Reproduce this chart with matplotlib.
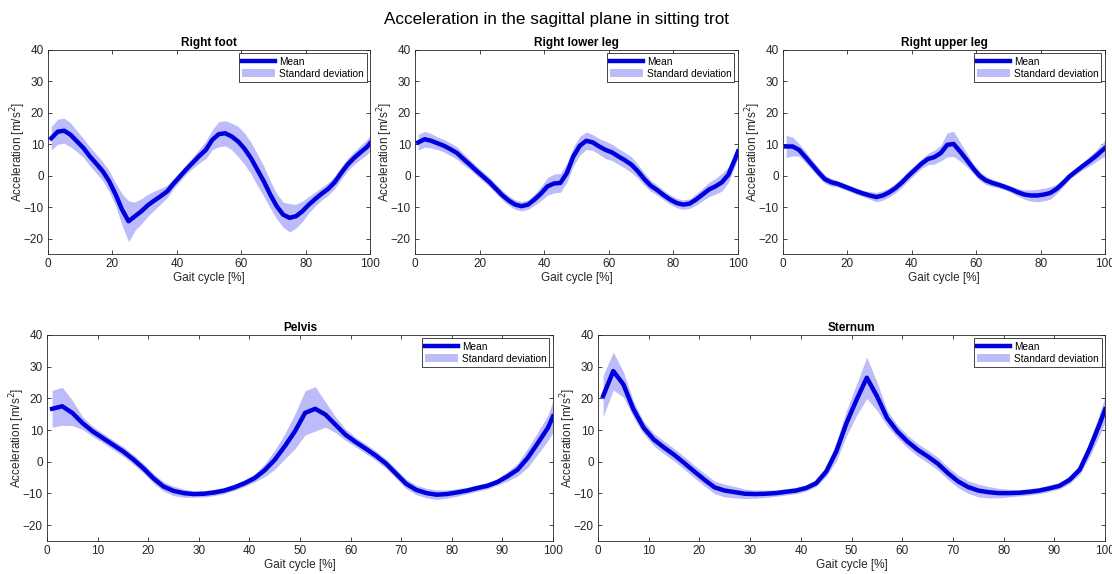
import numpy as np
import matplotlib
matplotlib.use("Agg")
import matplotlib.pyplot as plt

plt.rcParams['font.family'] = ['Liberation Sans', 'DejaVu Sans']

# gait cycle positions [%]
gait = [1, 3, 5, 7, 9, 11, 13, 15, 17, 19, 21, 23, 25, 27, 29, 31, 33, 35, 37, 39,
        41, 43, 45, 47, 49, 51, 53, 55, 57, 59, 61, 63, 65, 67, 69, 71, 73, 75, 77, 79,
        81, 83, 85, 87, 89, 91, 93, 95, 97, 99, 100]

foot_mean = [11.9, 14.0, 14.3, 13.0, 10.9, 8.8, 6.1, 3.8, 1.4, -1.8,
             -6.0, -10.8, -14.5, -12.9, -11.3, -9.4, -7.9, -6.5, -5.0, -2.5,
             -0.2, 2.1, 4.2, 6.3, 8.2, 11.4, 13.2, 13.5, 12.5, 10.9,
             8.6, 5.6, 1.9, -1.8, -6.0, -9.7, -12.4, -13.4, -12.9, -11.3,
             -9.2, -7.4, -5.7, -4.2, -2.1, 0.8, 3.5, 5.6, 7.4, 9.1, 10.3]
foot_sd = [3.7, 4.0, 4.0, 3.8, 3.3, 3.0, 3.0, 3.0, 3.0, 3.3,
           3.6, 5.0, 6.5, 4.5, 4.0, 3.5, 3.0, 2.5, 2.0, 1.6,
           1.5, 1.5, 1.8, 2.2, 2.8, 3.2, 4.0, 4.0, 4.2, 4.8,
           5.0, 5.0, 5.0, 4.8, 4.3, 4.0, 4.0, 4.5, 3.8, 3.2,
           2.6, 2.2, 2.0, 2.0, 2.0, 2.0, 2.0, 2.0, 2.2, 2.4, 2.5]

lower_mean = [10.6, 11.6, 11.1, 10.3, 9.5, 8.4, 7.2, 5.3, 3.5, 1.6,
              -0.2, -2.0, -4.1, -6.2, -7.9, -9.2, -9.7, -9.2, -7.6, -5.7,
              -3.4, -2.5, -2.3, 0.8, 6.1, 9.5, 11.1, 10.6, 9.3, 8.2,
              7.4, 6.1, 4.9, 3.5, 1.4, -1.1, -3.2, -4.6, -6.2, -7.6,
              -8.7, -9.2, -8.9, -7.6, -6.0, -4.4, -3.4, -2.1, 0.3, 5.1, 7.7]
lower_sd = [2.5, 2.5, 2.3, 2.0, 2.0, 2.0, 2.0, 1.8, 1.6, 1.5,
            1.5, 1.5, 1.5, 1.5, 1.5, 1.5, 1.5, 1.5, 1.8, 2.2,
            2.8, 3.0, 3.0, 3.0, 3.0, 3.0, 2.8, 2.5, 2.5, 2.8,
            2.6, 2.5, 2.5, 2.5, 2.2, 2.0, 1.8, 1.6, 1.5, 1.5,
            1.5, 1.5, 1.5, 1.8, 2.0, 2.3, 2.5, 2.8, 2.5, 2.2, 2.0]

upper_mean = [9.3, 9.3, 8.2, 5.9, 3.5, 1.1, -1.1, -2.1, -2.6, -3.4,
              -4.2, -5.0, -5.7, -6.3, -6.8, -6.3, -5.3, -3.9, -2.1, 0.0,
              1.9, 3.8, 5.3, 5.9, 7.2, 9.8, 10.1, 7.7, 5.1, 2.4,
              0.0, -1.5, -2.3, -2.9, -3.6, -4.4, -5.3, -6.0, -6.3, -6.3,
              -6.0, -5.5, -4.2, -2.3, -0.2, 1.4, 3.0, 4.5, 6.1, 7.9, 8.8]
upper_sd = [3.5, 3.0, 2.0, 1.8, 1.6, 1.5, 1.3, 1.2, 1.0, 1.0,
            1.0, 1.0, 1.0, 1.2, 1.5, 1.5, 1.5, 1.5, 1.5, 1.5,
            1.5, 1.5, 1.8, 2.2, 2.5, 3.8, 4.0, 3.0, 2.2, 1.6,
            1.5, 1.3, 1.2, 1.0, 1.0, 1.0, 1.2, 1.5, 1.8, 2.0,
            2.0, 2.0, 1.5, 1.2, 1.0, 1.0, 1.2, 1.5, 1.8, 2.2, 2.6]

pelvis_mean = [16.7, 17.5, 15.4, 12.2, 9.6, 7.5, 5.4, 3.3, 0.8, -2.0,
               -5.2, -7.8, -9.2, -9.9, -10.2, -10.1, -9.7, -9.1, -8.1, -6.8,
               -5.2, -2.7, 0.6, 4.9, 9.6, 15.4, 16.7, 14.9, 11.7, 8.5,
               6.2, 4.1, 1.9, -0.6, -3.8, -7.0, -8.9, -9.9, -10.4, -10.2,
               -9.7, -9.1, -8.3, -7.6, -6.4, -4.6, -2.5, 1.2, 5.9, 10.7, 14.3]
pelvis_sd = [5.8, 6.0, 4.0, 2.0, 1.6, 1.5, 1.5, 1.5, 1.5, 1.5,
             1.5, 1.5, 1.5, 1.3, 1.0, 1.0, 1.0, 1.0, 1.0, 1.0,
             1.2, 2.0, 3.0, 4.0, 5.5, 7.0, 7.0, 4.0, 2.5, 1.8,
             1.5, 1.5, 1.5, 1.5, 1.5, 1.5, 1.5, 1.5, 1.5, 1.3,
             1.2, 1.0, 1.0, 1.0, 1.0, 1.5, 2.0, 3.0, 3.5, 4.0, 5.0]

sternum_mean = [20.7, 28.6, 24.4, 16.5, 10.7, 7.0, 4.5, 2.2, -0.4, -3.1,
                -5.7, -8.1, -9.1, -9.6, -10.1, -10.2, -10.1, -9.9, -9.5, -9.1,
                -8.3, -6.8, -3.1, 3.3, 12.2, 19.6, 26.5, 20.7, 13.8, 9.6,
                6.4, 3.8, 1.7, -0.6, -3.6, -6.2, -8.0, -9.1, -9.6, -9.9,
                -9.9, -9.8, -9.5, -9.1, -8.4, -7.6, -5.7, -2.5, 4.3, 12.2, 16.5]
sternum_sd = [6.5, 6.0, 4.0, 2.5, 2.0, 2.0, 2.0, 2.0, 2.0, 2.0,
              2.0, 2.0, 2.0, 1.8, 1.5, 1.3, 1.2, 1.0, 1.0, 1.0,
              1.0, 1.0, 1.5, 3.0, 4.0, 5.0, 6.5, 4.5, 2.5, 2.0,
              2.0, 2.0, 2.0, 2.0, 2.0, 2.0, 2.0, 2.0, 1.8, 1.5,
              1.2, 1.0, 1.0, 1.0, 1.0, 1.0, 1.2, 1.5, 2.5, 3.5, 4.0]

panels = [
    ("Right foot", foot_mean, foot_sd, [0.0432, 0.557, 0.2896, 0.356], [0, 20, 40, 60, 80, 100]),
    ("Right lower leg", lower_mean, lower_sd, [0.3732, 0.557, 0.2905, 0.356], [0, 20, 40, 60, 80, 100]),
    ("Right upper leg", upper_mean, upper_sd, [0.7041, 0.557, 0.2896, 0.356], [0, 20, 40, 60, 80, 100]),
    ("Pelvis", pelvis_mean, pelvis_sd, [0.0423, 0.0575, 0.455, 0.359], list(range(0, 101, 10))),
    ("Sternum", sternum_mean, sternum_sd, [0.5378, 0.0575, 0.456, 0.359], list(range(0, 101, 10))),
]

text_col = '#262626'
fig = plt.figure(figsize=(11.12, 5.74), dpi=100)
fig.text(0.5, 0.966, "Acceleration in the sagittal plane in sitting trot",
         ha='center', va='center', fontsize=12.3, color='black')

x = np.array(gait)
for title, mean, sd, pos, xt in panels:
    ax = fig.add_axes(pos)
    m = np.array(mean)
    s = np.array(sd)
    ax.plot(x, m, color='#0000dd', lw=3.2, label='Mean', zorder=3,
            solid_joinstyle='round')
    ax.fill_between(x, m - s, m + s, color='#bcbcfa', lw=0,
                    label='Standard deviation', zorder=2)
    ax.set_xlim(0, 100)
    ax.set_ylim(-25, 40)
    ax.set_xticks(xt)
    ax.set_yticks([-20, -10, 0, 10, 20, 30, 40])
    ax.tick_params(direction='in', top=True, right=True, length=3, width=0.6,
                   labelsize=8.5, colors=text_col, pad=3)
    for sp in ax.spines.values():
        sp.set_color(text_col)
        sp.set_linewidth(0.6)
    ax.set_title(title, fontsize=8.5, fontweight='bold', pad=3)
    ax.set_xlabel("Gait cycle [%]", fontsize=8.5, color=text_col, labelpad=1)
    ax.set_ylabel("Acceleration [m/s$^2$]", fontsize=8.5, color=text_col, labelpad=-3)
    leg = ax.legend(loc='upper right', fontsize=7.3, fancybox=False, framealpha=1,
                    edgecolor=text_col, borderaxespad=0.35, handlelength=3.2,
                    borderpad=0.3, labelspacing=0.2, handletextpad=0.4)
    leg.get_frame().set_linewidth(0.6)

fig.savefig("out.png", dpi=100)
